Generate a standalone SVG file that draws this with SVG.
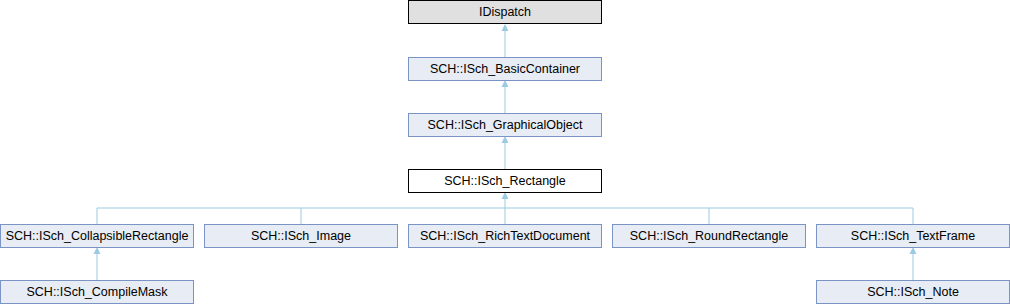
<svg xmlns="http://www.w3.org/2000/svg" width="1010" height="304" viewBox="0 0 1010 304">
<style>
.n rect{fill:#e8ecf4;stroke:#7b94c6;stroke-width:1}
.n text{font-family:"Liberation Sans",Arial,sans-serif;font-size:12.5px;fill:#000;text-anchor:middle}
.g rect{fill:#e0e0e0;stroke:#000}
.w rect{fill:#fff;stroke:#000}
.c path{fill:none;stroke:#9ccae3;stroke-width:1}
.c polygon{fill:#9ccae3;stroke:none}
</style>
<rect width="1010" height="304" fill="#fff"/>
<g class="c">
<path d="M505 31V57"/><polygon points="505,24 501.5,31 508.5,31"/>
<path d="M505 87V113"/><polygon points="505,80 501.5,87 508.5,87"/>
<path d="M505 143V169"/><polygon points="505,136 501.5,143 508.5,143"/>
<path d="M505 199V208M97 208H913M97 208V224M301 208V224M505 208V224M709 208V224M913 208V224"/><polygon points="505,192 501.5,199 508.5,199"/>
<path d="M97 254V280"/><polygon points="97,247 93.5,254 100.5,254"/>
<path d="M913 254V280"/><polygon points="913,247 909.5,254 916.5,254"/>
</g>
<g id="IDispatch" class="n g"><rect x="408.5" y="0.5" width="193" height="23"/><text x="505" y="16">IDispatch</text></g>
<g id="BasicContainer" class="n"><rect x="408.5" y="57.5" width="193" height="23"/><text x="505" y="73">SCH::ISch_BasicContainer</text></g>
<g id="GraphicalObject" class="n"><rect x="408.5" y="113.5" width="193" height="23"/><text x="505" y="129">SCH::ISch_GraphicalObject</text></g>
<g id="Rectangle" class="n w"><rect x="408.5" y="169.5" width="193" height="23"/><text x="505" y="185">SCH::ISch_Rectangle</text></g>
<g id="CollapsibleRectangle" class="n"><rect x="0.5" y="224.5" width="193" height="23"/><text x="97" y="240">SCH::ISch_CollapsibleRectangle</text></g>
<g id="Image" class="n"><rect x="204.5" y="224.5" width="193" height="23"/><text x="301" y="240">SCH::ISch_Image</text></g>
<g id="RichTextDocument" class="n"><rect x="408.5" y="224.5" width="193" height="23"/><text x="505" y="240">SCH::ISch_RichTextDocument</text></g>
<g id="RoundRectangle" class="n"><rect x="612.5" y="224.5" width="193" height="23"/><text x="709" y="240">SCH::ISch_RoundRectangle</text></g>
<g id="TextFrame" class="n"><rect x="816.5" y="224.5" width="193" height="23"/><text x="913" y="240">SCH::ISch_TextFrame</text></g>
<g id="CompileMask" class="n"><rect x="0.5" y="280.5" width="193" height="23"/><text x="97" y="296">SCH::ISch_CompileMask</text></g>
<g id="Note" class="n"><rect x="816.5" y="280.5" width="193" height="23"/><text x="913" y="296">SCH::ISch_Note</text></g>
</svg>
